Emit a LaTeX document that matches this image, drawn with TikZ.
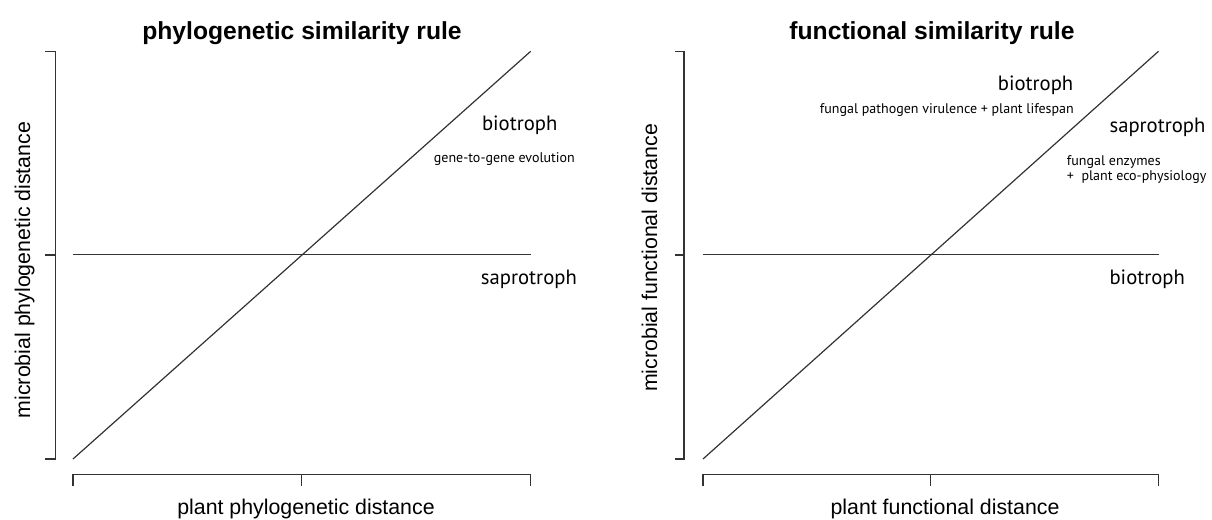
\documentclass[tikz,border=0pt]{standalone}
\usepackage{fontspec}
\setmainfont{Liberation Sans}
\newfontfamily\annfont{PT Sans}
\begin{document}
\begin{tikzpicture}[x=0.75pt,y=-0.75pt,
  axisline/.style={line width=1pt, draw=black!80, line cap=rect},
  ruleline/.style={line width=0.9pt, draw=black!80},
  ptitle/.style={inner sep=0pt, anchor=base, font=\fontsize{18.5}{22}\selectfont\bfseries},
  axlabel/.style={inner sep=0pt, anchor=base, font=\fontsize{16}{19}\selectfont},
  bigann/.style={inner sep=0pt, font=\annfont\fontsize{15.5}{18}\selectfont},
  smallann/.style={inner sep=0pt, font=\annfont\fontsize{10.5}{12}\selectfont}]
\useasboundingbox (0,0) rectangle (1212,520);

% ---------- left panel ----------
\coordinate (LyT) at (55.7,51.3);
\coordinate (LyM) at (55.7,255);
\coordinate (LyB) at (55.7,459);
\coordinate (LyTt) at (45.7,51.3);
\coordinate (LyMt) at (45.7,255);
\coordinate (LyBt) at (45.7,459);
\draw[axisline] (LyTt) -- (LyT) -- (LyB) -- (LyBt);
\draw[axisline] (LyM) -- (LyMt);

\coordinate (LxL) at (73,474.3);
\coordinate (LxM) at (301.8,474.3);
\coordinate (LxR) at (530.7,474.3);
\coordinate (LxLt) at (73,485);
\coordinate (LxMt) at (301.8,485);
\coordinate (LxRt) at (530.7,485);
\draw[axisline] (LxLt) -- (LxL) -- (LxR) -- (LxRt);
\draw[axisline] (LxM) -- (LxMt);

\coordinate (LhL) at (73,254.3);
\coordinate (LhR) at (530.7,254.3);
\draw[ruleline] (LhL) -- (LhR);
\coordinate (LdA) at (73,459);
\coordinate (LdB) at (530.7,51.3);
\draw[ruleline] (LdA) -- (LdB);

\node[ptitle] (Ltitle) at (302,39.5) {phylogenetic similarity rule};
\node[axlabel] (Lxlab) at (306,514) {plant phylogenetic distance};
\node[axlabel, rotate=90] (Lylab) at (30,270) {microbial phylogenetic distance};

\node[bigann, anchor=base] (Lbio) at (519.7,130.7) {biotroph};
\node[smallann, anchor=base] (Lgene) at (504.4,163) {gene-to-gene evolution};
\node[bigann, anchor=base] (Lsap) at (528.9,284.3) {saprotroph};

% ---------- right panel ----------
\coordinate (RyT) at (684,51.3);
\coordinate (RyM) at (684,255);
\coordinate (RyB) at (684,459);
\coordinate (RyTt) at (675.7,51.3);
\coordinate (RyMt) at (675.7,255);
\coordinate (RyBt) at (675.7,459);
\draw[axisline] (RyTt) -- (RyT) -- (RyB) -- (RyBt);
\draw[axisline] (RyM) -- (RyMt);

\coordinate (RxL) at (703,474.3);
\coordinate (RxM) at (930.8,474.3);
\coordinate (RxR) at (1158.5,474.3);
\coordinate (RxLt) at (703,485);
\coordinate (RxMt) at (930.8,485);
\coordinate (RxRt) at (1158.5,485);
\draw[axisline] (RxLt) -- (RxL) -- (RxR) -- (RxRt);
\draw[axisline] (RxM) -- (RxMt);

\coordinate (RhL) at (703,254.3);
\coordinate (RhR) at (1158.5,254.3);
\draw[ruleline] (RhL) -- (RhR);
\coordinate (RdA) at (703,459);
\coordinate (RdB) at (1158.5,51.3);
\draw[ruleline] (RdA) -- (RdB);

\node[ptitle] (Rtitle) at (932,39.5) {functional similarity rule};
\node[axlabel] (Rxlab) at (945,514) {plant functional distance};
\node[axlabel, rotate=90] (Rylab) at (657,258) {microbial functional distance};

\node[bigann, anchor=base east] (Rbio) at (1073.5,91) {biotroph};
\node[smallann, anchor=base east] (Rpath) at (1074,114) {fungal pathogen virulence + plant lifespan};
\node[bigann, anchor=base west] (Rsap) at (1109.3,132.3) {saprotroph};
\node[smallann, anchor=base west] (Renz) at (1066.7,166) {fungal enzymes};
\node[smallann, anchor=base west] (Reco) at (1066.7,181) {+\ \ plant eco-physiology};
\node[bigann, anchor=base west] (Rbio2) at (1109.3,284.3) {biotroph};
\end{tikzpicture}
\end{document}
